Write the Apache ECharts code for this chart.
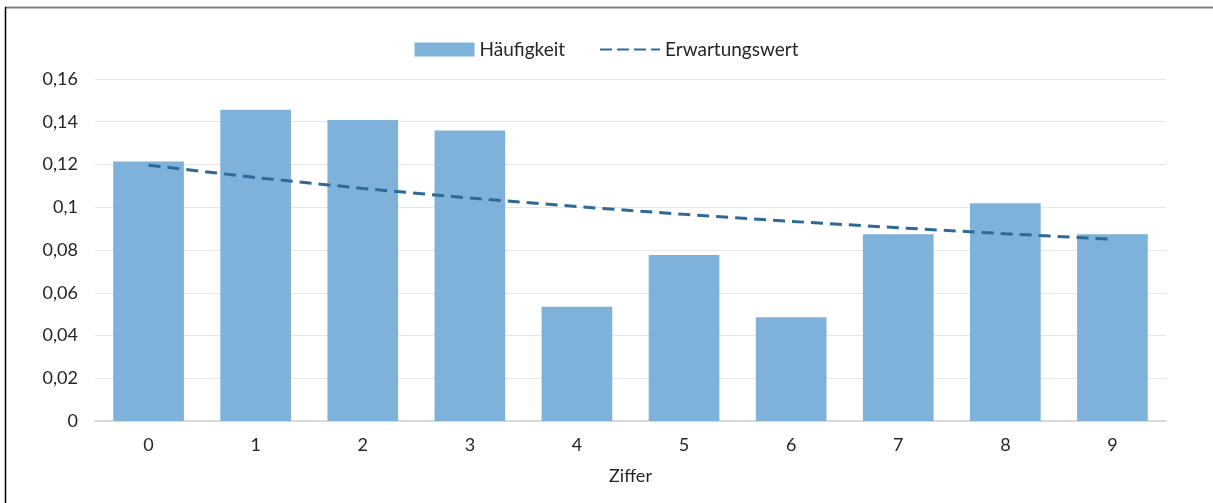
<!DOCTYPE html>
<html>
<head>
<meta charset="utf-8">
<script src="https://cdn.jsdelivr.net/npm/echarts@6/dist/echarts.min.js"></script>
<style>
  html, body { margin: 0; padding: 0; background: #fff; }
  #main { width: 1213px; height: 503px; }
</style>
</head>
<body>
<div id="main"></div>
<script>
// Ziffern und Werte
var ziffern = ['0', '1', '2', '3', '4', '5', '6', '7', '8', '9'];
var haeufigkeit = [0.1214, 0.1456, 0.1408, 0.1359, 0.0534, 0.0777, 0.0485, 0.0874, 0.1019, 0.0874];
var erwartungswert = [0.1197, 0.1139, 0.1088, 0.1043, 0.1003, 0.0967, 0.0934, 0.0904, 0.0876, 0.0850];
var yTicks = [0, 0.02, 0.04, 0.06, 0.08, 0.1, 0.12, 0.14, 0.16];

var chart = echarts.init(document.getElementById('main'));

function fmt(v) {
  return String(+v.toFixed(2)).replace('.', ',');
}

var option = {
  animation: false,
  textStyle: { fontFamily: 'Lato' },
  graphic: [
    { type: 'line', shape: { x1: 5, y1: 7.5, x2: 1213, y2: 7.5 }, style: { stroke: '#7f7f7f', lineWidth: 2 } },
    { type: 'line', shape: { x1: 5.5, y1: 7, x2: 5.5, y2: 503 }, style: { stroke: '#000', lineWidth: 1.5 } }
  ],
  legend: {
    top: 35,
    left: 'center',
    itemGap: 34,
    itemWidth: 60,
    itemHeight: 14,
    textStyle: { fontSize: 19, color: '#262626', fontFamily: 'Lato' },
    data: [
      { name: 'Häufigkeit', icon: 'rect' },
      { name: 'Erwartungswert', itemStyle: { opacity: 0 }, lineStyle: { type: [12, 5] } }
    ]
  },
  grid: {
    left: 95,
    right: 47,
    top: 79,
    bottom: 82
  },
  xAxis: {
    type: 'category',
    data: ziffern,
    name: 'Ziffer',
    nameLocation: 'middle',
    nameGap: 46,
    nameTextStyle: { fontSize: 18, color: '#262626', fontFamily: 'Lato' },
    axisLine: { lineStyle: { color: '#d9d9d9', width: 2 } },
    axisTick: { show: false },
    axisLabel: { fontSize: 18, color: '#262626', margin: 15, fontFamily: 'Lato' }
  },
  yAxis: {
    type: 'value',
    min: 0,
    max: 0.16,
    interval: 0.02,
    axisLine: { show: false },
    axisTick: { show: false },
    splitLine: { lineStyle: { color: '#e6e6e6', width: 1 } },
    axisLabel: {
      fontSize: 18,
      color: '#262626',
      margin: 17,
      fontFamily: 'Lato',
      formatter: function (v) { return fmt(v); }
    }
  },
  series: [
    {
      name: 'Häufigkeit',
      type: 'bar',
      data: haeufigkeit,
      barCategoryGap: '34%',
      itemStyle: { color: '#7fb2da' }
    },
    {
      name: 'Erwartungswert',
      type: 'line',
      data: erwartungswert,
      symbol: 'none',
      lineStyle: { color: '#2e6a98', width: 3, type: [12, 7] },
      itemStyle: { color: '#2e6a98' }
    }
  ]
};

chart.setOption(option);
</script>
</body>
</html>
